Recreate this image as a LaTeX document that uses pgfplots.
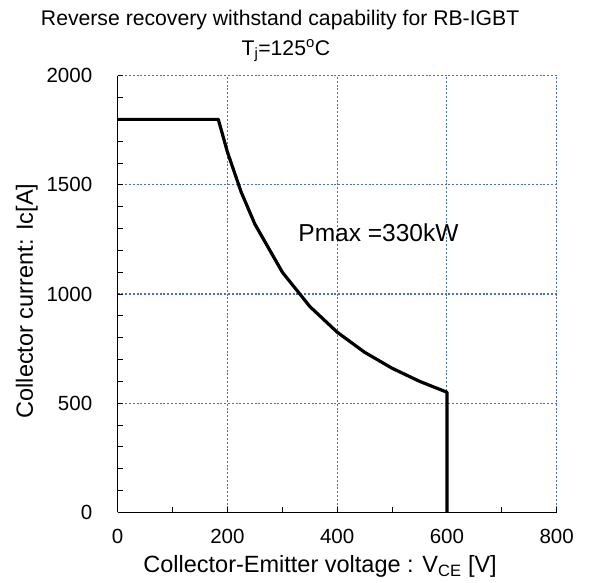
\documentclass[border=0pt]{standalone}
\usepackage{pgfplots}
\pgfplotsset{compat=1.18}
\usepackage{fontspec}
\setmainfont{Liberation Sans}
\definecolor{gridblue}{RGB}{70,114,196}
\begin{document}
\begin{tikzpicture}
\useasboundingbox (0pt,0pt) rectangle (598pt,583pt);
\begin{axis}[
  at={(117.7pt,70.7pt)}, anchor=origin,
  scale only axis, width=439pt, height=436.6pt,
  xmin=0, xmax=800, ymin=0, ymax=2000,
  axis x line=bottom, axis y line=left,
  axis line style={-, black, line width=0.9pt},
  xtick={0,200,...,800}, ytick={0,500,...,2000},
  minor x tick num=1, minor y tick num=4,
  tick align=inside, major tick length=5pt, minor tick length=5pt,
  every tick/.style={black, line width=0.8pt},
  grid=major,
  every major grid/.style={draw=gridblue, line width=1.1pt, dash pattern=on 2pt off 1.8pt},
  /pgf/number format/assume math mode=true,
  /pgf/number format/set thousands separator={},
  ticklabel style={font=\fontsize{20.5}{24}\selectfont},
  xticklabel style={yshift=-13pt},
  yticklabel style={xshift=-22pt},
  xlabel={Collector-Emitter voltage : V\textsubscript{CE} [V]},
  ylabel={Collector current: Ic[A]},
  xlabel style={at={(axis description cs:0.461,-0.139)}, anchor=base, font=\fontsize{23.5}{28}\selectfont},
  ylabel style={at={(axis description cs:-0.193,0.484)}, anchor=base, rotate=0, font=\fontsize{23.5}{28}\selectfont},
  clip=false,
]
\addplot[black, line width=3.2pt, line join=round] coordinates {
  (0,1800) (183.3,1800) (200,1650) (225,1467) (250,1320) (300,1100)
  (350,943) (400,825) (450,733) (500,660) (550,600) (600,550) (600,0)
};
\node[anchor=base west, font=\fontsize{24.5}{29}\selectfont] at (axis cs:323,1240) {Pmax =330kW};
\node[anchor=base, font=\fontsize{21.2}{25}\selectfont] at (axis description cs:0.370,1.116) {Reverse recovery withstand capability for RB-IGBT};
\node[anchor=base, font=\fontsize{21.2}{25}\selectfont] at (axis description cs:0.383,1.047) {T\textsubscript{j}=125\textsuperscript{o}C};
\end{axis}
\end{tikzpicture}
\end{document}
